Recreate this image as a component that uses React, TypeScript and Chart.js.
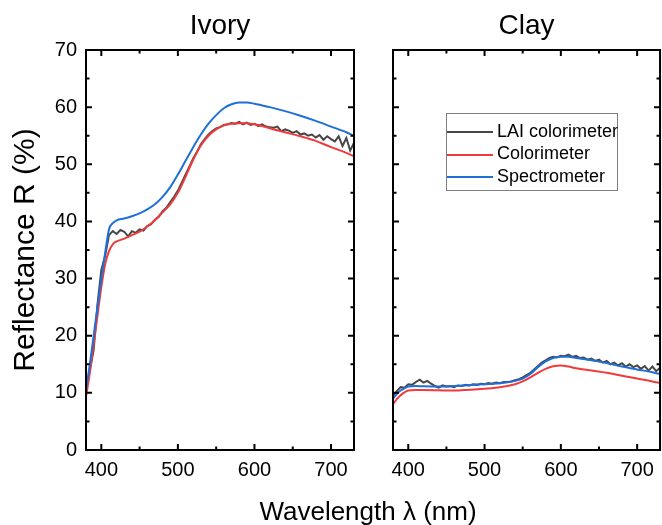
import React, { useEffect, useRef } from 'react';
import { Chart, registerables } from 'chart.js';

Chart.register(...registerables);

const FONT = 'Arial, "Liberation Sans", sans-serif';

// ---- labels / styling data ----
const panelTitles = ['Ivory', 'Clay'];
const seriesLabels = ['LAI colorimeter', 'Colorimeter', 'Spectrometer'];
const seriesColors = ['#474747', '#ef3b3b', '#1f6fd9'];
const yAxisTitle = 'Reflectance R (%)';
const xAxisTitle = 'Wavelength \u03bb (nm)';

const xMajorTicks = [400, 500, 600, 700];
const xMinorTicks = [450, 550, 650];
const yMajorTicks = [0, 10, 20, 30, 40, 50, 60, 70];
const yMinorTicks = [5, 15, 25, 35, 45, 55, 65];

// ---- Ivory ----
const ivorySmoothWl = [380, 385, 390, 395, 400, 405, 410, 415, 420, 430, 440, 450, 460, 470, 480, 490, 500, 510, 520, 530, 540, 550, 560, 570, 580, 590, 600, 610, 620, 640, 660, 680, 700, 720, 730];
const ivorySpectrometer = [10.5, 15.0, 20.0, 25.0, 30.0, 34.5, 38.6, 39.7, 40.2, 40.5, 40.9, 41.4, 42.1, 43.0, 44.3, 46.0, 48.2, 50.6, 53.0, 55.2, 57.1, 58.6, 59.8, 60.5, 60.8, 60.8, 60.6, 60.3, 60.0, 59.3, 58.5, 57.6, 56.6, 55.6, 55.0];
const ivoryColorimeter = [9.3, 13.5, 18.5, 23.5, 28.5, 32.5, 34.8, 36.0, 36.5, 37.0, 37.6, 38.2, 39.1, 40.2, 41.6, 43.0, 45.0, 47.8, 50.8, 53.3, 55.0, 56.1, 56.8, 57.1, 57.2, 57.2, 57.0, 56.7, 56.3, 55.6, 54.9, 54.1, 53.0, 52.0, 51.4];

const laiWl = [380, 385, 390, 395, 400, 405, 410, 415, 420, 425, 430, 435, 440, 445, 450, 455, 460, 465, 470, 475, 480, 485, 490, 495, 500, 505, 510, 515, 520, 525, 530, 535, 540, 545, 550, 555, 560, 565, 570, 575, 580, 585, 590, 595, 600, 605, 610, 615, 620, 625, 630, 635, 640, 645, 650, 655, 660, 665, 670, 675, 680, 685, 690, 695, 700, 705, 710, 715, 720, 725, 730];
const ivoryLai = [10.8, 14.0, 17.5, 25.5, 31.5, 34.0, 37.6, 38.3, 37.8, 38.5, 38.2, 37.4, 38.3, 38.0, 38.6, 38.4, 39.2, 39.5, 40.3, 40.8, 41.8, 42.4, 43.4, 44.3, 45.4, 46.8, 48.2, 49.6, 51.0, 52.2, 53.5, 54.4, 55.2, 55.8, 56.3, 56.5, 56.9, 57.0, 57.2, 57.1, 57.4, 57.0, 57.3, 56.9, 57.1, 56.7, 57.0, 56.6, 56.5, 56.4, 56.6, 55.8, 56.1, 55.9, 55.5, 55.8, 55.2, 55.4, 55.0, 55.2, 54.7, 55.1, 54.3, 54.9, 54.4, 54.0, 54.9, 53.2, 54.6, 52.4, 53.8];

// ---- Clay ----
const claySmoothWl = [380, 385, 390, 395, 400, 410, 420, 440, 460, 480, 500, 520, 530, 540, 550, 560, 570, 580, 590, 600, 610, 620, 640, 660, 680, 700, 720, 730];
const claySpectrometer = [9.0, 9.8, 10.4, 10.8, 11.1, 11.2, 11.15, 11.1, 11.2, 11.35, 11.5, 11.7, 11.85, 12.1, 12.5, 13.3, 14.5, 15.5, 16.1, 16.3, 16.3, 16.1, 15.7, 15.2, 14.6, 14.1, 13.6, 13.3];
const clayColorimeter = [8.0, 8.9, 9.6, 10.1, 10.4, 10.5, 10.5, 10.45, 10.4, 10.55, 10.7, 11.0, 11.2, 11.5, 12.0, 12.7, 13.5, 14.2, 14.65, 14.8, 14.6, 14.3, 13.9, 13.5, 13.0, 12.5, 12.0, 11.7];
const clayLai = [9.5, 10.3, 11.0, 10.9, 11.5, 11.4, 11.9, 12.3, 11.8, 12.1, 11.6, 11.2, 10.9, 11.3, 11.1, 11.2, 11.0, 11.3, 11.2, 11.4, 11.3, 11.5, 11.4, 11.6, 11.5, 11.7, 11.6, 11.8, 11.7, 11.9, 11.9, 12.0, 12.2, 12.4, 12.7, 13.1, 13.5, 14.1, 14.7, 15.3, 15.7, 16.1, 16.3, 16.2, 16.5, 16.4, 16.7, 16.3, 16.5, 16.1, 16.2, 15.8, 16.0, 15.6, 15.8, 15.3, 15.6, 15.0, 15.3, 14.8, 15.2, 14.6, 15.0, 14.5, 14.8, 14.2, 14.7, 13.9, 14.6, 13.8, 14.4];

const toPts = (xs: number[], ys: number[]) => xs.map((x, i) => ({ x, y: ys[i] }));

const frameTicksPlugin = {
  id: 'frameTicks',
  afterDatasetsDraw(chart: any) {
    const { ctx, chartArea, scales } = chart;
    const { left, right, top, bottom } = chartArea;
    const xs = scales.x;
    const ys = scales.y;
    const MAJ = 6;
    const MIN = 3.5;
    ctx.save();
    ctx.strokeStyle = '#000';
    ctx.lineWidth = 2;
    ctx.beginPath();
    const seg = (x1: number, y1: number, x2: number, y2: number) => {
      ctx.moveTo(x1, y1);
      ctx.lineTo(x2, y2);
    };
    xMajorTicks.forEach((v) => {
      const p = xs.getPixelForValue(v);
      seg(p, bottom, p, bottom - MAJ);
      seg(p, top, p, top + MAJ);
    });
    xMinorTicks.forEach((v) => {
      const p = xs.getPixelForValue(v);
      seg(p, bottom, p, bottom - MIN);
      seg(p, top, p, top + MIN);
    });
    yMajorTicks.forEach((v) => {
      const p = ys.getPixelForValue(v);
      seg(left, p, left + MAJ, p);
      seg(right, p, right - MAJ, p);
    });
    yMinorTicks.forEach((v) => {
      const p = ys.getPixelForValue(v);
      seg(left, p, left + MIN, p);
      seg(right, p, right - MIN, p);
    });
    ctx.stroke();
    ctx.strokeRect(left, top, right - left, bottom - top);
    ctx.restore();
  },
};

function makeConfig(
  title: string,
  wlSmooth: number[],
  spec: number[],
  colr: number[],
  lai: number[],
  showY: boolean,
  yWidth: number,
  padRight: number
): any {
  return {
    type: 'line',
    data: {
      datasets: [
        {
          label: seriesLabels[0],
          data: toPts(laiWl, lai),
          borderColor: seriesColors[0],
          borderWidth: 2,
          pointRadius: 0,
          tension: 0,
          order: 3,
        },
        {
          label: seriesLabels[1],
          data: toPts(wlSmooth, colr),
          borderColor: seriesColors[1],
          borderWidth: 2,
          pointRadius: 0,
          cubicInterpolationMode: 'monotone',
          order: 2,
        },
        {
          label: seriesLabels[2],
          data: toPts(wlSmooth, spec),
          borderColor: seriesColors[2],
          borderWidth: 2,
          pointRadius: 0,
          cubicInterpolationMode: 'monotone',
          order: 1,
        },
      ],
    },
    options: {
      animation: false,
      responsive: false,
      maintainAspectRatio: false,
      layout: { padding: { left: 0, right: padRight, top: 0, bottom: 0 } },
      plugins: {
        legend: { display: false },
        tooltip: { enabled: false },
        title: {
          display: true,
          text: title,
          fullSize: false,
          color: '#000',
          font: { family: FONT, size: 28, weight: 'normal' },
          padding: { top: 9, bottom: 7.4 },
        },
      },
      scales: {
        x: {
          type: 'linear',
          min: 380,
          max: 730,
          grid: { display: false, drawTicks: false },
          border: { display: false },
          afterBuildTicks: (s: any) => {
            s.ticks = xMajorTicks.map((v) => ({ value: v }));
          },
          afterFit: (s: any) => {
            s.height = 75;
          },
          ticks: {
            color: '#000',
            font: { family: FONT, size: 20 },
            padding: 8,
            maxRotation: 0,
            autoSkip: false,
          },
        },
        y: {
          type: 'linear',
          min: 0,
          max: 70,
          grid: { display: false, drawTicks: false },
          border: { display: false },
          afterBuildTicks: (s: any) => {
            s.ticks = yMajorTicks.map((v) => ({ value: v }));
          },
          afterFit: (s: any) => {
            s.width = yWidth;
          },
          ticks: {
            display: showY,
            color: '#000',
            font: { family: FONT, size: 20 },
            padding: 9,
          },
          title: {
            display: showY,
            text: yAxisTitle,
            color: '#000',
            font: { family: FONT, size: 30, weight: 'normal' },
            padding: { top: 7.4, bottom: 0 },
          },
        },
      },
    },
    plugins: [frameTicksPlugin],
  };
}

export default function App() {
  const leftRef = useRef<HTMLCanvasElement>(null);
  const rightRef = useRef<HTMLCanvasElement>(null);

  useEffect(() => {
    const c1 = new Chart(
      leftRef.current as HTMLCanvasElement,
      makeConfig(panelTitles[0], ivorySmoothWl, ivorySpectrometer, ivoryColorimeter, ivoryLai, true, 86, 16)
    );
    const c2 = new Chart(
      rightRef.current as HTMLCanvasElement,
      makeConfig(panelTitles[1], claySmoothWl, claySpectrometer, clayColorimeter, clayLai, false, 23, 1)
    );
    return () => {
      c1.destroy();
      c2.destroy();
    };
  }, []);

  const legendRowCenters = [131, 153.5, 176];
  const legendLineCenters = [132.3, 155, 177.3];

  return (
    <div
      style={{
        position: 'fixed',
        left: 0,
        top: 0,
        width: 662,
        height: 525,
        background: '#fff',
        overflow: 'hidden',
        fontFamily: FONT,
      }}
    >
      <canvas
        ref={leftRef}
        width={370}
        height={525}
        style={{ position: 'absolute', left: 0, top: 0, width: 370, height: 525 }}
      />
      <canvas
        ref={rightRef}
        width={292}
        height={525}
        style={{ position: 'absolute', left: 370, top: 0, width: 292, height: 525 }}
      />
      <div
        style={{
          position: 'absolute',
          left: 368,
          top: 496,
          transform: 'translateX(-50%)',
          whiteSpace: 'nowrap',
          fontSize: 26,
          lineHeight: '30px',
          color: '#000',
        }}
      >
        {xAxisTitle}
      </div>
      <div
        style={{
          position: 'absolute',
          left: 446,
          top: 113,
          width: 172,
          height: 78,
          boxSizing: 'border-box',
          border: '1px solid #808080',
          background: '#fff',
        }}
      />
      {seriesLabels.map((lab, i) => (
        <React.Fragment key={lab}>
          <div
            style={{
              position: 'absolute',
              left: 447,
              top: legendLineCenters[i] - 1,
              width: 46,
              height: 2,
              background: seriesColors[i],
            }}
          />
          <div
            style={{
              position: 'absolute',
              left: 497,
              top: legendRowCenters[i] - 11.5,
              height: 23,
              lineHeight: '23px',
              fontSize: 18,
              color: '#000',
              whiteSpace: 'nowrap',
            }}
          >
            {lab}
          </div>
        </React.Fragment>
      ))}
    </div>
  );
}
